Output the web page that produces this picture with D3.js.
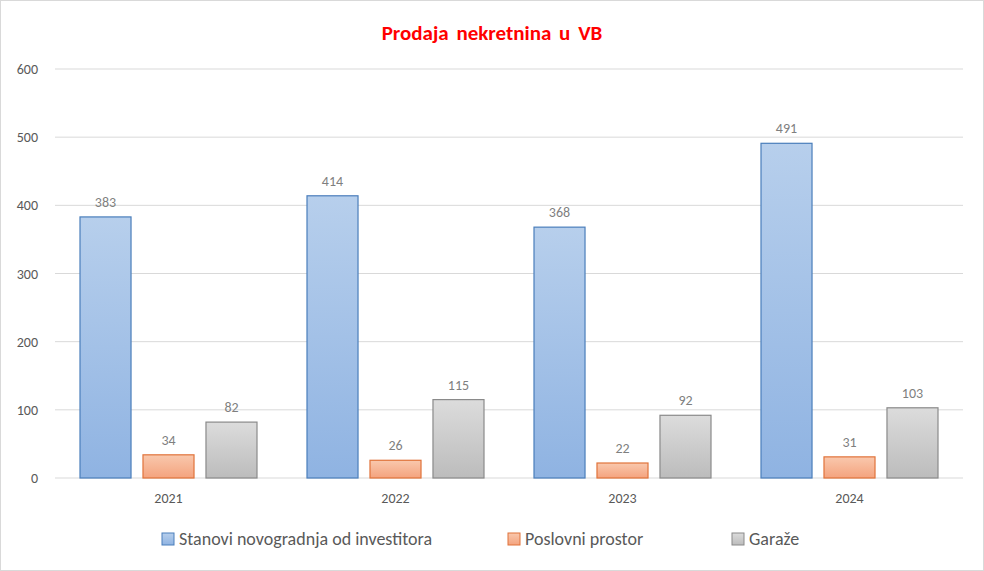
<!DOCTYPE html>
<html><head><meta charset="utf-8">
<script src="https://cdn.jsdelivr.net/npm/d3@7"></script>
<style>body{margin:0;background:#fff}svg{font-family:Calibri,Carlito,"Liberation Sans",Arial,sans-serif}</style>
</head><body>
<svg id="c" width="984" height="571"></svg>
<script>
var years = ['2021','2022','2023','2024'];
var series = ['Stanovi novogradnja od investitora','Poslovni prostor','Garaže'];
var stanovi = [383,414,368,491];
var poslovni = [34,26,22,31];
var garaze = [82,115,92,103];
var yTicks = [0,100,200,300,400,500,600];

var values = [stanovi, poslovni, garaze];
var fills = [['#b7cfec','#8fb3e2'],['#f9c8ad','#f4a37e'],['#dcdcdc','#bcbcbc']];
var strokes = ['#4a7ebb','#e0733a','#8a8a8a'];

var svg = d3.select('#c');
svg.append('rect').attr('x',0.5).attr('y',0.5).attr('width',983).attr('height',570)
  .attr('fill','#fff').attr('stroke','#d9d9d9');

var defs = svg.append('defs');
fills.forEach(function(f,i){
  var g = defs.append('linearGradient').attr('id','g'+i).attr('x1',0).attr('y1',0).attr('x2',0).attr('y2',1);
  g.append('stop').attr('offset','0%').attr('stop-color',f[0]);
  g.append('stop').attr('offset','100%').attr('stop-color',f[1]);
});

var x0 = d3.scaleBand().domain(years).range([55,963]);
var x1 = d3.scaleBand().domain(d3.range(3)).range([25,202]).paddingInner(0.19);
var y = d3.scaleLinear().domain([0,600]).range([478,69]);

svg.selectAll('.grid').data(yTicks).enter().append('line')
  .attr('x1',55).attr('x2',963).attr('y1',function(d){return y(d);}).attr('y2',function(d){return y(d);})
  .attr('stroke','#d9d9d9');
svg.selectAll('.yl').data(yTicks).enter().append('text')
  .attr('x',38).attr('y',function(d){return y(d)+5;}).attr('text-anchor','end')
  .attr('font-size',14).attr('fill','#595959').text(function(d){return d;});

years.forEach(function(yr,j){
  var gx = x0(yr);
  values.forEach(function(v,i){
    var bx = gx + x1(i), bw = x1.bandwidth();
    svg.append('rect').attr('x',bx).attr('y',y(v[j])).attr('width',bw).attr('height',y(0)-y(v[j]))
      .attr('fill','url(#g'+i+')').attr('stroke',strokes[i]).attr('stroke-width',1.2);
    svg.append('text').attr('x',bx+bw/2).attr('y',y(v[j])-10).attr('text-anchor','middle')
      .attr('font-size',14).attr('fill','#7f7f7f').text(v[j]);
  });
  svg.append('text').attr('x',gx+x0.bandwidth()/2).attr('y',503).attr('text-anchor','middle')
    .attr('font-size',14).attr('fill','#595959').text(yr);
});

svg.append('text').attr('x',492).attr('y',40).attr('text-anchor','middle')
  .attr('font-size',21).attr('font-weight','bold').attr('fill','#ff0000').attr('word-spacing',3)
  .text('Prodaja  nekretnina  u VB');

var lx = [162,508,732];
series.forEach(function(s,i){
  svg.append('rect').attr('x',lx[i]).attr('y',533).attr('width',12).attr('height',12)
    .attr('fill','url(#g'+i+')').attr('stroke',strokes[i]);
  svg.append('text').attr('x',lx[i]+17).attr('y',545).attr('font-size',18).attr('fill','#595959').text(s);
});
</script>
</body></html>
